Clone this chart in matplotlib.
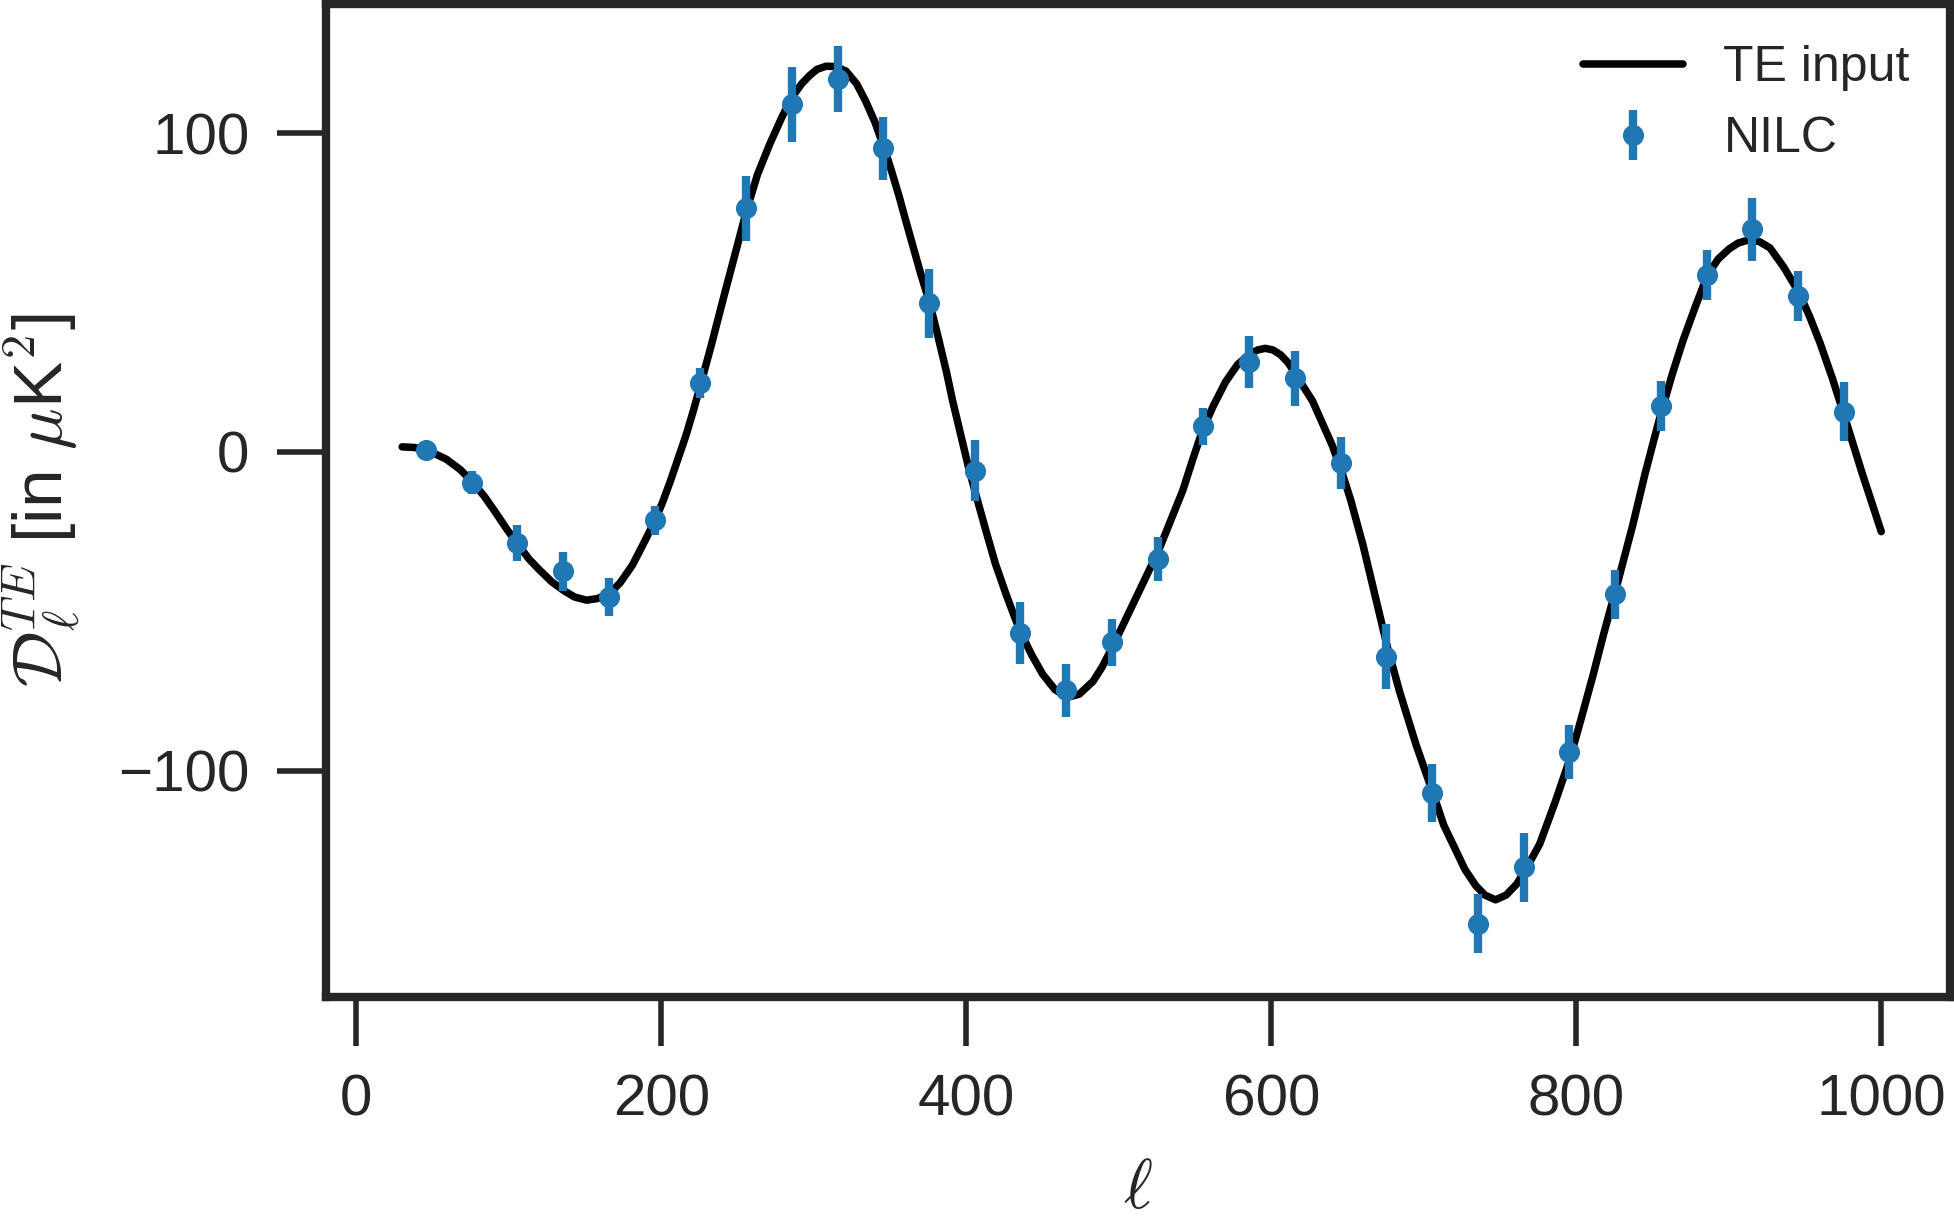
import matplotlib

matplotlib.use("Agg")
import matplotlib.pyplot as plt

# --- data --------------------------------------------------------------------
# theory TE spectrum (D_ell in muK^2)
ell_input = [30, 38, 46, 52, 59, 68, 76, 84, 92, 99, 106, 113, 120, 128, 136, 143, 151,
             158, 166, 173, 181, 188, 196, 201, 206, 211, 216, 221, 226, 233, 240, 248,
             256, 263, 271, 279, 286, 292, 297, 302, 308, 314, 321, 328, 334, 340, 346,
             351, 356, 360, 365, 370, 376, 381, 387, 391, 396, 401, 406, 413, 419, 426,
             431, 436, 443, 450, 458, 466, 474, 483, 489, 496, 503, 511, 518, 526, 534,
             542, 548, 555, 562, 570, 578, 586, 591, 596, 601, 606, 611, 616, 621, 627,
             633, 640, 646, 652, 656, 660, 668, 676, 684, 695, 706, 713, 721, 727, 734,
             740, 747, 754, 761, 768, 776, 786, 796, 803, 811, 818, 826, 837, 845, 851,
             856, 863, 870, 878, 886, 893, 900, 906, 913, 920, 927, 936, 946, 953, 960,
             968, 976, 987, 1000]
dl_input = [1.6, 1.4, 0.6, -0.7, -2.3, -5.5, -9.4, -14.0, -19.5, -24.5, -29.0, -33.5,
            -37.0, -40.7, -43.5, -45.5, -46.5, -46.0, -44.5, -41.0, -35.5, -29.0, -21.4,
            -15.5, -9.0, -2.0, 5.0, 13.0, 21.6, 34.0, 47.0, 61.5, 76.0, 87.0, 96.5,
            105.0, 111.5, 115.5, 118.0, 120.0, 121.0, 120.9, 119.5, 115.5, 110.0, 103.5,
            95.5, 88.0, 80.0, 73.0, 64.5, 56.0, 46.6, 37.0, 25.0, 16.0, 6.0, -4.0, -13.0,
            -25.0, -35.0, -44.6, -51.0, -57.0, -63.8, -69.7, -74.5, -77.0, -76.0, -72.0,
            -67.5, -61.0, -54.0, -46.0, -39.0, -31.0, -21.5, -12.0, -3.0, 7.0, 14.5,
            22.0, 27.5, 30.7, 32.0, 32.5, 32.0, 30.5, 28.0, 24.4, 20.5, 16.0, 9.5, 2.0,
            -6.0, -15.0, -22.0, -29.0, -45.0, -61.0, -75.0, -92.0, -107.0, -117.0,
            -125.0, -131.0, -136.0, -139.0, -140.5, -139.0, -135.5, -130.0, -123.0,
            -110.0, -96.0, -84.0, -70.0, -57.0, -43.0, -23.0, -7.0, 4.0, 13.0, 24.5,
            35.0, 45.5, 55.5, 60.5, 63.6, 65.5, 66.5, 66.0, 64.0, 58.0, 50.0, 42.5, 34.0,
            23.0, 11.0, -6.0, -25.0]

# NILC binned estimates
ell_nilc = [45.5, 75.5, 105.5, 135.5, 165.5, 195.5, 225.5, 255.5, 285.5, 315.5, 345.5,
            375.5, 405.5, 435.5, 465.5, 495.5, 525.5, 555.5, 585.5, 615.5, 645.5, 675.5,
            705.5, 735.5, 765.5, 795.5, 825.5, 855.5, 885.5, 915.5, 945.5, 975.5]
dl_nilc = [0.7, -9.6, -28.6, -37.5, -45.6, -21.4, 21.6, 76.4, 109.0, 116.9, 95.2, 46.6,
           -5.9, -56.8, -74.7, -59.7, -33.6, 8.1, 28.2, 23.1, -3.5, -64.2, -107.0,
           -148.0, -130.3, -94.0, -44.6, 14.5, 55.5, 69.8, 48.9, 12.6]
err_nilc = [2.0, 3.7, 5.6, 6.0, 6.0, 4.5, 4.8, 10.3, 11.7, 10.4, 9.8, 10.8, 9.6, 9.8,
            8.3, 7.3, 7.0, 5.8, 8.1, 8.6, 8.2, 10.3, 9.2, 9.2, 10.8, 8.5, 7.7, 7.8, 7.7,
            10.0, 7.8, 9.2]

INK = "#262626"
plt.rcParams.update({
    "font.family": ["Liberation Sans", "DejaVu Sans"],
    "mathtext.fontset": "cm",
    "text.color": INK,
    "axes.labelcolor": INK,
    "axes.edgecolor": INK,
    "xtick.color": INK,
    "ytick.color": INK,
    "lines.solid_capstyle": "round",
    "lines.solid_joinstyle": "round",
})

fig = plt.figure(figsize=(9.77, 6.135), dpi=200)
ax = fig.add_axes([0.1668, 0.1874, 0.8311, 0.8093])

ax.plot(ell_input, dl_input, color="black", lw=2.7, label="TE input", zorder=2)
ax.errorbar(ell_nilc, dl_nilc, yerr=err_nilc, fmt="o", color="#1f77b4", ms=6.6,
            elinewidth=3.0, capsize=0, label="NILC", zorder=3)

ax.set_xlim(-20, 1045)
ax.set_ylim(-171, 140.5)
ax.set_xticks([0, 200, 400, 600, 800, 1000])
ax.set_yticks([-100, 0, 100])

for side in ax.spines.values():
    side.set_linewidth(3.0)
ax.tick_params(axis="both", which="major", length=17.5, width=2.0, pad=10,
               labelsize=21)

ax.set_xlabel(r"$\ell$", fontsize=25, labelpad=11)
ax.set_ylabel(r"$\mathcal{D}_\ell^{TE}$ [in $\mu$K$^2$]", fontsize=25, labelpad=13)

ax.legend(loc="upper right", frameon=False, fontsize=18,
          bbox_to_anchor=(1.003, 1.004))

fig.savefig("out.png", dpi=200)
plt.close(fig)
